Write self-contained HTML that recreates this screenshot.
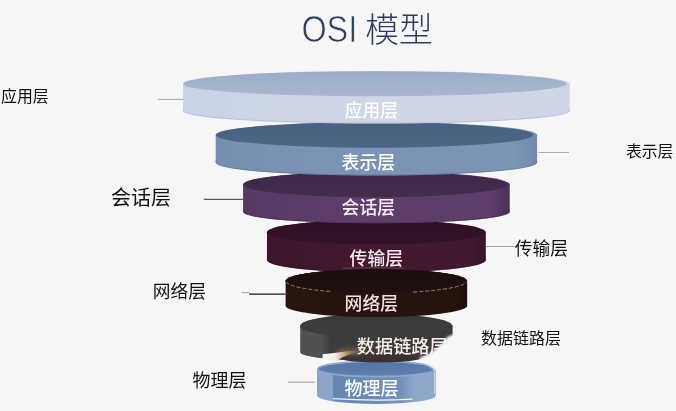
<!DOCTYPE html>
<html lang="zh-CN"><head><meta charset="utf-8"><title>OSI 模型</title>
<style>
html,body{margin:0;padding:0;background:#f6f6f7;}
body{width:676px;height:411px;overflow:hidden;font-family:"Liberation Sans","Noto Sans CJK SC",sans-serif;}
svg{display:block}
text{font-family:"Liberation Sans","Noto Sans CJK SC",sans-serif;}
.title{font-weight:300;}
.in{font-weight:500;}
</style></head><body>
<svg width="676" height="411" viewBox="0 0 676 411">
<defs>
<linearGradient id="streak" gradientUnits="userSpaceOnUse" x1="322" y1="0" x2="360" y2="0"><stop offset="0" stop-color="#fbfbfc"/><stop offset="0.35" stop-color="#f3eee9"/><stop offset="0.62" stop-color="#c9a585" stop-opacity=".9"/><stop offset="1" stop-color="#8a6a50" stop-opacity="0"/></linearGradient>
<filter id="b0" x="-10%" y="-30%" width="120%" height="160%"><feGaussianBlur stdDeviation="0.6"/></filter>
<filter id="b1" x="-10%" y="-30%" width="120%" height="160%"><feGaussianBlur stdDeviation="1.3"/></filter>
<filter id="b2" x="-20%" y="-60%" width="140%" height="220%"><feGaussianBlur stdDeviation="2.2"/></filter>
<linearGradient id="t7" x1="0" y1="0" x2="0" y2="1"><stop offset="0" stop-color="#5674a3"/><stop offset="1" stop-color="#6381ae"/></linearGradient><linearGradient id="s7" x1="0" y1="0" x2="1" y2="0"><stop offset="0" stop-color="#8ea4cb"/><stop offset="0.13" stop-color="#8ea4cb"/><stop offset="0.14" stop-color="#6685b3"/><stop offset="0.7" stop-color="#7390bc"/><stop offset="0.82" stop-color="#8ea6ca"/><stop offset="1" stop-color="#8ea6ca"/></linearGradient><linearGradient id="t6" x1="0" y1="0" x2="0" y2="1"><stop offset="0" stop-color="#39393b"/><stop offset="1" stop-color="#3e3e40"/></linearGradient><linearGradient id="s6" x1="0" y1="0" x2="1" y2="0"><stop offset="0" stop-color="#515153"/><stop offset="0.14" stop-color="#515153"/><stop offset="0.2" stop-color="#3c3c3e"/><stop offset="1" stop-color="#3a3a3c"/></linearGradient><linearGradient id="t5" x1="0" y1="0" x2="0" y2="1"><stop offset="0" stop-color="#1b0e0d"/><stop offset="1" stop-color="#1f100f"/></linearGradient><linearGradient id="s5" x1="0" y1="0" x2="1" y2="0"><stop offset="0" stop-color="#27150f"/><stop offset="0.35" stop-color="#25130e"/><stop offset="0.93" stop-color="#25130e"/><stop offset="1" stop-color="#1c0e0b"/></linearGradient><linearGradient id="t4" x1="0" y1="0" x2="0" y2="1"><stop offset="0" stop-color="#2e1024"/><stop offset="1" stop-color="#32122a"/></linearGradient><linearGradient id="s4" x1="0" y1="0" x2="1" y2="0"><stop offset="0" stop-color="#3b152b"/><stop offset="0.35" stop-color="#41182f"/><stop offset="0.93" stop-color="#41182f"/><stop offset="1" stop-color="#38132a"/></linearGradient><linearGradient id="t3" x1="0" y1="0" x2="0" y2="1"><stop offset="0" stop-color="#3e2747"/><stop offset="1" stop-color="#442c4e"/></linearGradient><linearGradient id="s3" x1="0" y1="0" x2="1" y2="0"><stop offset="0" stop-color="#563864"/><stop offset="0.35" stop-color="#5d3e6b"/><stop offset="0.93" stop-color="#5d3e6b"/><stop offset="1" stop-color="#4a3056"/></linearGradient><linearGradient id="t2" x1="0" y1="0" x2="0" y2="1"><stop offset="0" stop-color="#48607f"/><stop offset="1" stop-color="#4d6686"/></linearGradient><linearGradient id="s2" x1="0" y1="0" x2="1" y2="0"><stop offset="0" stop-color="#748eb1"/><stop offset="0.35" stop-color="#7b94b6"/><stop offset="0.93" stop-color="#7b94b6"/><stop offset="1" stop-color="#6f89ac"/></linearGradient><linearGradient id="t1" x1="0" y1="0" x2="0" y2="1"><stop offset="0" stop-color="#9cacc9"/><stop offset="1" stop-color="#a9b7cf"/></linearGradient><linearGradient id="s1" x1="0" y1="0" x2="1" y2="0"><stop offset="0" stop-color="#c9d2e3"/><stop offset="0.35" stop-color="#cfd7e6"/><stop offset="0.93" stop-color="#cfd7e6"/><stop offset="1" stop-color="#cdd5e5"/></linearGradient>
</defs>
<rect width="676" height="411" fill="#f6f6f7"/>
<g opacity="0.999"><text class="title" x="301.4" y="42.4" font-size="37" fill="#2e3c5e" stroke="#f6f6f7" stroke-width="0.7" textLength="55.8" lengthAdjust="spacingAndGlyphs">OSI</text>
<text class="title" x="365.2" y="41.8" font-size="33.8" fill="#2e3c5e">模型</text></g>
<g id="d7"><path d="M317.0,369.0 L317.0,395.5 A59.4,8.5 0 0 0 435.8,395.5 L435.8,369.0 Z" fill="url(#s7)"/><ellipse cx="376.4" cy="369.0" rx="58.4" ry="7.6000000000000005" fill="url(#t7)" stroke="#8da6cb" stroke-width="1.6"/><path d="M333,398.6 Q372,401.2 412.5,399.2" fill="none" stroke="#f4f6fa" stroke-width="1.3"/><line x1="434.6" y1="372" x2="434.6" y2="394" stroke="#dfe6f1" stroke-width="1.2" opacity=".8"/></g>
<g id="d6"><path d="M300.2,326.1 L300.2,352.2 A76.2,8.6 0 0 0 452.6,352.2 L452.6,326.1 Z" fill="url(#s6)"/><ellipse cx="376.4" cy="326.1" rx="76.2" ry="12.0" fill="url(#s6)"/><ellipse cx="375.90" cy="326.1" rx="75.70" ry="11.75" fill="url(#t6)"/></g>
<g class="fx"><ellipse cx="380" cy="358.2" rx="40" ry="4.3" fill="#383233" filter="url(#b0)"/><ellipse cx="350" cy="351.8" rx="14" ry="3.4" fill="#a07a5c" opacity=".55" filter="url(#b2)"/><path d="M322.6,354.3 L336,352.8 L348,351.2 L360,350.6 L360,352.4 L350,354.2 L342,357.6 L337,360.8 L322.6,360.8 Z" fill="url(#streak)" filter="url(#b0)"/></g>
<g id="d5"><path d="M285.6,281.0 L285.6,305.8 A90.8,11.2 0 0 0 467.2,305.8 L467.2,281.0 Z" fill="url(#s5)"/><ellipse cx="376.4" cy="281.0" rx="90.8" ry="12.0" fill="url(#s5)"/><ellipse cx="375.90" cy="281.0" rx="90.30" ry="11.75" fill="url(#t5)"/><path d="M286.1,281.6 A90.8,12.0 0 0 0 332,291.5" fill="none" stroke="#a58676" stroke-width="0.7" stroke-dasharray="4 2"/><path d="M413,292.0 A90.8,12.0 0 0 0 466.7,281.6" fill="none" stroke="#a58676" stroke-width="0.7" stroke-dasharray="4 2"/></g>
<g id="d4"><path d="M267.0,232.3 L267.0,259.9 A109.4,12.5 0 0 0 485.8,259.9 L485.8,232.3 Z" fill="url(#s4)"/><ellipse cx="376.4" cy="232.3" rx="109.4" ry="12.5" fill="url(#s4)"/><ellipse cx="375.65" cy="232.3" rx="108.65" ry="12.25" fill="url(#t4)"/><path d="M267.4,257.9 L267.4,259.9 A109.0,12.1 0 0 0 485.4,259.9 L485.4,257.9" fill="none" stroke="#2c0f22" stroke-width="0.9" opacity=".7"/></g>
<g class="d5top"><ellipse cx="376.4" cy="281.0" rx="90.8" ry="12.0" fill="url(#s5)"/><ellipse cx="375.90" cy="281.0" rx="90.30" ry="11.75" fill="url(#t5)"/><path d="M286.1,281.6 A90.8,12.0 0 0 0 332,291.5" fill="none" stroke="#a58676" stroke-width="0.7" stroke-dasharray="4 2"/><path d="M413,292.0 A90.8,12.0 0 0 0 466.7,281.6" fill="none" stroke="#a58676" stroke-width="0.7" stroke-dasharray="4 2"/></g>
<g class="fx"><path d="M343,268.2 Q373,267.2 403.5,268.2" fill="none" stroke="#8d6475" stroke-width="1.1" opacity=".55" filter="url(#b0)"/></g>
<g id="d3"><path d="M243.1,184.5 L243.1,211.8 A133.3,11.5 0 0 0 509.7,211.8 L509.7,184.5 Z" fill="url(#s3)"/><ellipse cx="376.4" cy="184.5" rx="133.3" ry="13.0" fill="url(#s3)"/><ellipse cx="374.90" cy="184.5" rx="131.80" ry="12.75" fill="url(#t3)"/><path d="M243.5,209.8 L243.5,211.8 A132.9,11.1 0 0 0 509.3,211.8 L509.3,209.8" fill="none" stroke="#3f2949" stroke-width="0.9" opacity=".7"/></g>
<g id="d2"><path d="M215.7,135.0 L215.7,162.6 A160.7,12.8 0 0 0 537.1,162.6 L537.1,135.0 Z" fill="url(#s2)"/><ellipse cx="376.4" cy="135.0" rx="160.7" ry="13.0" fill="url(#s2)"/><ellipse cx="374.40" cy="135.0" rx="158.70" ry="12.75" fill="url(#t2)"/><path d="M216.1,160.6 L216.1,162.6 A160.3,12.4 0 0 0 536.7,162.6 L536.7,160.6" fill="none" stroke="#56718f" stroke-width="0.9" opacity=".7"/></g>
<g id="d1"><path d="M183.1,83.7 L183.1,110.9 A193.3,12.6 0 0 0 569.7,110.9 L569.7,83.7 Z" fill="url(#s1)"/><ellipse cx="376.4" cy="83.7" rx="193.3" ry="12.8" fill="url(#s1)"/><ellipse cx="374.90" cy="83.7" rx="191.80" ry="12.55" fill="url(#t1)"/><path d="M183.5,108.9 L183.5,110.9 A192.9,12.2 0 0 0 569.3,110.9 L569.3,108.9" fill="none" stroke="#a9b5cf" stroke-width="0.9" opacity=".7"/></g>
<line x1="158" y1="99.4" x2="183.2" y2="99.4" stroke="#8c8c8c" stroke-width="0.8"/>
<line x1="538.4" y1="152.5" x2="569" y2="152.5" stroke="#a6a6a6" stroke-width="0.9"/>
<line x1="203.8" y1="199.3" x2="243" y2="199.3" stroke="#303030" stroke-width="1.0"/>
<line x1="486" y1="246.5" x2="514.6" y2="246.5" stroke="#9c9c9c" stroke-width="0.9"/>
<line x1="249" y1="294.2" x2="285.3" y2="294.2" stroke="#1a1412" stroke-width="1.2"/>
<line x1="241.8" y1="292.6" x2="249.2" y2="292.6" stroke="#8a8a8a" stroke-width="0.8"/>
<line x1="288" y1="382.2" x2="314.6" y2="382.2" stroke="#888" stroke-width="0.8"/>
<g opacity="0.999">
<text class="in" x="344.8" y="116.6" font-size="17.8" fill="#fff">应用层</text>
<text class="in" x="341.6" y="168.6" font-size="17.8" fill="#fff">表示层</text>
<text class="in" x="341.6" y="214.2" font-size="17.8" fill="#fbeefb">会话层</text>
<text class="in" x="349.6" y="264.8" font-size="17.8" fill="#fbe9ef">传输层</text>
<text class="in" x="344.6" y="309.5" font-size="17.8" fill="#f7dede">网络层</text>
<text class="in" x="356.8" y="352.8" font-size="18.2" fill="#fdeee6">数据链路层</text>
<text class="in" x="344.6" y="394.6" font-size="18" fill="#fff">物理层</text>
<text class="out" x="1.0" y="102.0" font-size="15.9" fill="#111">应用层</text>
<text class="out" x="626.0" y="156.9" font-size="15.8" fill="#111">表示层</text>
<text class="out" x="110.9" y="205.0" font-size="20" fill="#111">会话层</text>
<text class="out" x="514.8" y="255.2" font-size="17.7" fill="#111">传输层</text>
<text class="out" x="152.8" y="298.2" font-size="17.7" fill="#111">网络层</text>
<text class="out" x="480.9" y="343.8" font-size="16" fill="#111">数据链路层</text>
<text class="out" x="192.6" y="387.2" font-size="17.9" fill="#111">物理层</text>
</g>
<g class="fx"><path d="M460,334.6 L452.5,334.8 L447.5,336.8 L441.5,344 L434.5,350 L427.5,354.5 L419,357.8 L422,361 L428,365 L433.5,369 L437.5,372.5 L460,372.5 Z" fill="#f6f6f7" filter="url(#b1)"/></g>
</svg>
</body></html>
